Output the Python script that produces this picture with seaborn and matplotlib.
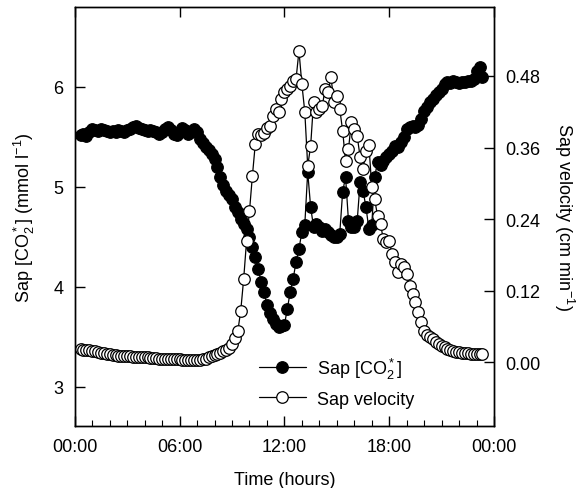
import matplotlib
matplotlib.use("Agg")
import matplotlib.pyplot as plt
import numpy as np
import seaborn as sns
from matplotlib.lines import Line2D

# sampling grid: every 10 min from 00:20 to 23:20
minutes = np.arange(20, 1410, 10)
hours = minutes / 60.0

# Sap [CO2*] (mmol l-1)
co2 = [
    5.52, 5.53, 5.51, 5.55,
    5.58, 5.57, 5.56, 5.58, 5.57, 5.56,
    5.55, 5.56, 5.55, 5.57, 5.56, 5.55,
    5.57, 5.58, 5.60, 5.61, 5.59, 5.58,
    5.57, 5.56, 5.57, 5.56, 5.55, 5.53,
    5.55, 5.58, 5.60, 5.57, 5.53, 5.52,
    5.55, 5.59, 5.57, 5.53, 5.55, 5.58,
    5.55, 5.48, 5.44, 5.40, 5.37, 5.33,
    5.28, 5.20, 5.10, 5.02, 4.96, 4.92,
    4.88, 4.80, 4.75, 4.68, 4.63, 4.58,
    4.50, 4.40, 4.30, 4.18, 4.05, 3.95,
    3.82, 3.74, 3.68, 3.63, 3.60, 3.61,
    3.62, 3.78, 3.95, 4.08, 4.25, 4.38,
    4.55, 4.62, 5.15, 4.80, 4.60, 4.63,
    4.60, 4.56, 4.58, 4.55, 4.52, 4.50,
    4.50, 4.53, 4.95, 5.10, 4.66, 4.60,
    4.60, 4.66, 5.05, 4.96, 4.80, 4.58,
    4.62, 5.10, 5.25, 5.22, 5.26, 5.30,
    5.33, 5.36, 5.41, 5.40, 5.45, 5.50,
    5.58, 5.60, 5.61, 5.60, 5.62, 5.68,
    5.76, 5.80, 5.85, 5.88, 5.92, 5.95,
    5.98, 6.03, 6.05, 6.04, 6.06, 6.05,
    6.04, 6.05, 6.05, 6.06, 6.06, 6.08,
    6.16, 6.20, 6.10,
]

# Sap velocity (cm min-1)
velocity = [
    0.022, 0.021, 0.020, 0.020,
    0.019, 0.018, 0.017, 0.016, 0.015, 0.014,
    0.013, 0.012, 0.012, 0.011, 0.011, 0.010,
    0.010, 0.010, 0.009, 0.009, 0.009, 0.008,
    0.008, 0.008, 0.007, 0.007, 0.007, 0.006,
    0.006, 0.006, 0.006, 0.005, 0.005, 0.005,
    0.005, 0.004, 0.004, 0.004, 0.004, 0.003,
    0.004, 0.004, 0.005, 0.006, 0.008, 0.010,
    0.012, 0.014, 0.016, 0.018, 0.020, 0.024,
    0.030, 0.040, 0.052, 0.086, 0.139, 0.203,
    0.253, 0.312, 0.366, 0.383, 0.381, 0.385,
    0.392, 0.396, 0.413, 0.425, 0.420, 0.441,
    0.453, 0.458, 0.463, 0.471, 0.475, 0.522,
    0.466, 0.420, 0.329, 0.362, 0.436, 0.420,
    0.425, 0.430, 0.458, 0.453, 0.478, 0.436,
    0.446, 0.425, 0.388, 0.337, 0.357, 0.403,
    0.391, 0.379, 0.344, 0.324, 0.354, 0.365,
    0.294, 0.273, 0.245, 0.231, 0.206, 0.201,
    0.203, 0.181, 0.168, 0.151, 0.164, 0.160,
    0.148, 0.128, 0.114, 0.101, 0.084, 0.067,
    0.052, 0.046, 0.042, 0.038, 0.034, 0.030,
    0.027, 0.025, 0.022, 0.020, 0.018, 0.017,
    0.017, 0.016, 0.015, 0.015, 0.014, 0.014,
    0.013, 0.013, 0.013,
]

xtick_pos = [0, 6, 12, 18, 24]
xtick_labels = ["00:00", "06:00", "12:00", "18:00", "00:00"]
co2_ticks = [3, 4, 5, 6]
vel_ticks = [0.00, 0.12, 0.24, 0.36, 0.48]

sns.set_style("ticks")
plt.rcParams["font.family"] = ["Liberation Sans", "DejaVu Sans"]
plt.rcParams["mathtext.default"] = "regular"
plt.rcParams["font.size"] = 13
plt.rcParams["text.color"] = "black"
plt.rcParams["axes.labelcolor"] = "black"
plt.rcParams["xtick.color"] = "black"
plt.rcParams["ytick.color"] = "black"

fig = plt.figure(figsize=(5.84, 4.89), dpi=100)
ax = fig.add_axes([0.128, 0.127, 0.718, 0.857])
ax2 = ax.twinx()

ms = 8.3
sns.lineplot(x=hours, y=co2, ax=ax, color="black", lw=0.9, marker="o",
             markersize=ms, markerfacecolor="black", markeredgecolor="black",
             markeredgewidth=0.9, sort=False, estimator=None)
sns.lineplot(x=hours, y=velocity, ax=ax2, color="black", lw=0.9, marker="o",
             markersize=ms, markerfacecolor="white", markeredgecolor="black",
             markeredgewidth=0.9, sort=False, estimator=None)

ax.set_xlim(0, 24)
ax.set_ylim(2.61, 6.8)
ax2.set_ylim(-0.107, 0.596)

ax.set_xticks(xtick_pos)
ax.set_xticklabels(xtick_labels)
ax.set_xticks(np.arange(0, 25, 1), minor=True)
ax.set_yticks(co2_ticks)
ax2.set_yticks(vel_ticks)
ax2.set_yticklabels([f"{v:.2f}" for v in vel_ticks])

ax.tick_params(axis="x", which="major", direction="in", length=7, width=1,
               top=True, pad=9, labelsize=13, colors="black")
ax.tick_params(axis="x", which="minor", direction="in", length=4, width=0.8,
               top=False, colors="black")
ax.tick_params(axis="y", direction="in", length=7, width=1, pad=8,
               labelsize=13, colors="black")
ax2.tick_params(axis="y", direction="in", length=7, width=1, pad=8,
                labelsize=13, colors="black")

for a in (ax, ax2):
    for s in a.spines.values():
        s.set_visible(True)
        s.set_linewidth(1.0)
        s.set_color("black")

ax.set_xlabel("Time (hours)", fontsize=13, labelpad=11, color="black")
ax.set_ylabel("Sap [CO$_2^*$] (mmol l$^{-1}$)", fontsize=13, labelpad=12,
              color="black")
ax2.set_ylabel("Sap velocity (cm min$^{-1}$)", fontsize=13, rotation=270,
               labelpad=26, color="black")

handles = [
    Line2D([], [], color="black", lw=0.9, marker="o", markersize=ms,
           markerfacecolor="black", markeredgecolor="black",
           markeredgewidth=0.9),
    Line2D([], [], color="black", lw=0.9, marker="o", markersize=ms,
           markerfacecolor="white", markeredgecolor="black",
           markeredgewidth=0.9),
]
ax2.legend(handles, ["Sap [CO$_2^*$]", "Sap velocity"], loc="lower left",
           bbox_to_anchor=(0.40, 0.005), frameon=False, fontsize=13,
           handlelength=2.6, handletextpad=0.6, labelspacing=0.55)

fig.savefig("out.png", dpi=100)
